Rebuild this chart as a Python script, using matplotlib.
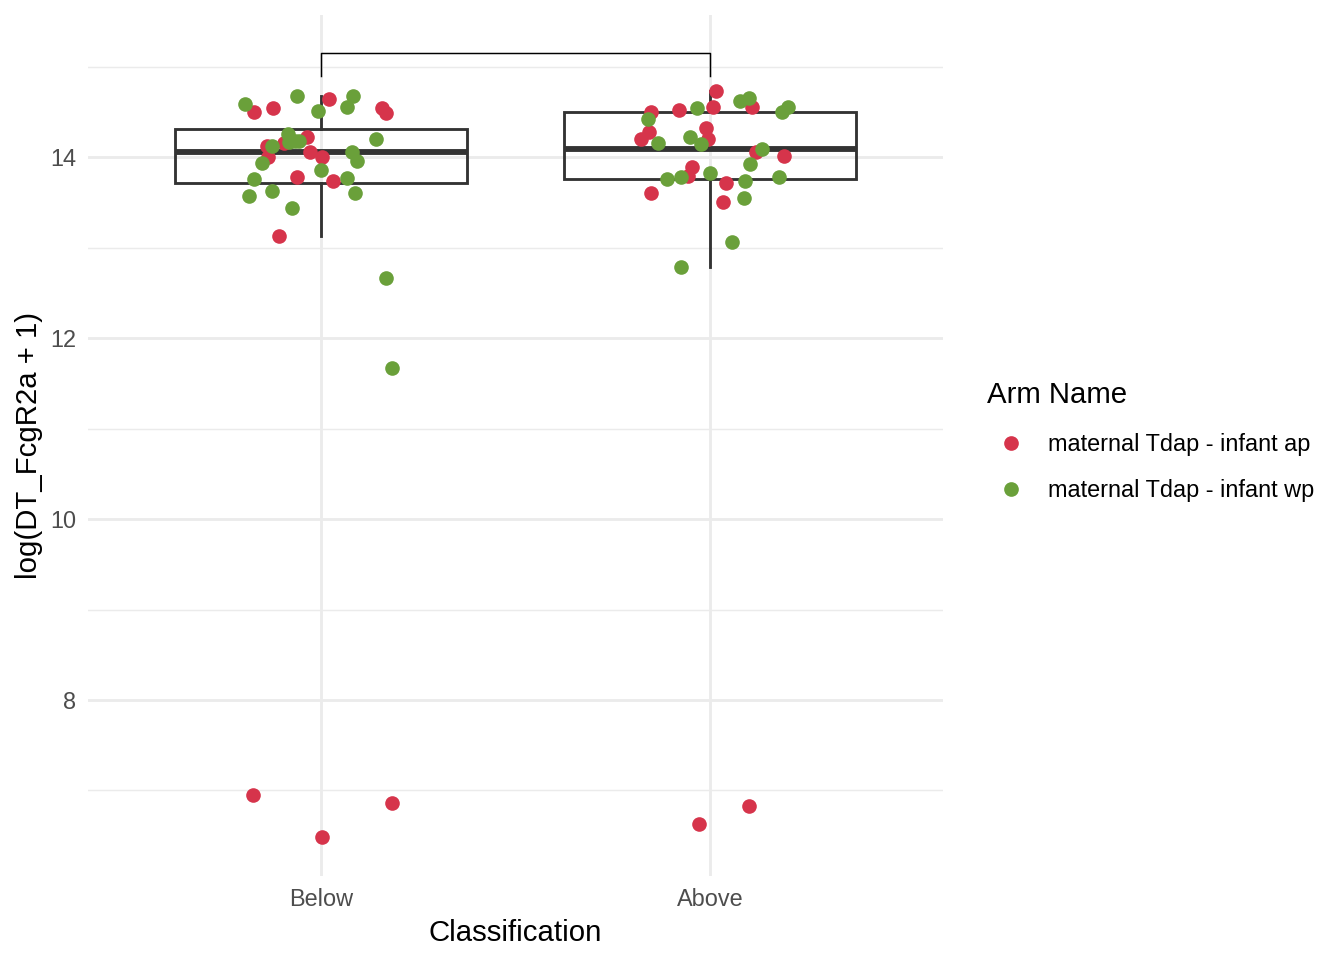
import numpy as np
import matplotlib
matplotlib.use("Agg")
import matplotlib.pyplot as plt
from matplotlib.lines import Line2D

plt.rcParams['font.family'] = ['Liberation Sans', 'DejaVu Sans']

categories = ["Below", "Above"]
arm_names = ["maternal Tdap - infant ap", "maternal Tdap - infant wp"]
colors = ["#D6344B", "#6AA03A"]

# Below group
below_ap = [14.50, 14.54, 14.64, 14.54, 14.49, 14.22, 14.16, 14.12, 14.00, 14.06,
            14.00, 13.78, 13.74, 13.13, 6.95, 6.49, 6.86]
below_ap_jit = [-0.172, -0.123, 0.021, 0.157, 0.167, -0.036, -0.095, -0.139, -0.136, -0.028,
                0.003, -0.062, 0.031, -0.108, -0.175, 0.003, 0.183]
below_wp = [14.59, 14.67, 14.67, 14.55, 14.51, 14.25, 14.17, 14.18, 14.18, 14.12, 14.20,
            14.06, 13.96, 13.93, 13.86, 13.76, 13.77, 13.57, 13.62, 13.60, 13.44,
            12.66, 11.67]
below_wp_jit = [-0.195, -0.062, 0.082, 0.067, -0.008, -0.085, -0.082, -0.057, -0.068, -0.126, 0.141,
                0.080, 0.093, -0.152, 0.000, -0.172, 0.067, -0.185, -0.126, 0.087, -0.075,
                0.167, 0.183]

# Above group
above_ap = [14.73, 14.50, 14.52, 14.55, 14.55, 14.32, 14.28, 14.20, 14.20, 14.06,
            14.01, 13.89, 13.79, 13.71, 13.60, 13.50, 6.63, 6.83]
above_ap_jit = [0.015, -0.152, -0.080, 0.008, 0.108, -0.010, -0.157, -0.177, -0.005, 0.118,
                0.190, -0.046, -0.057, 0.041, -0.152, 0.033, -0.028, 0.100]
above_wp = [14.62, 14.65, 14.54, 14.55, 14.50, 14.42, 14.22, 14.14, 14.16, 14.09,
            13.92, 13.82, 13.78, 13.76, 13.74, 13.78, 13.55, 13.06, 12.79]
above_wp_jit = [0.077, 0.100, -0.033, 0.201, 0.185, -0.159, -0.051, -0.023, -0.134, 0.134,
                0.103, 0.000, -0.075, -0.111, 0.090, 0.177, 0.087, 0.057, -0.075]

bracket_y = 15.15
bracket_tip = 14.895

fig = plt.figure(figsize=(7, 5), dpi=192)
ax = fig.add_axes([88/1344, 1-876/960, (943-88)/1344, (876-15)/960])

ax.set_xlim(0.4, 2.6)
ax.set_ylim(6.055, 15.57)

# grid
for y in [8, 10, 12, 14]:
    ax.axhline(y, color="#EBEBEB", lw=1.07, zorder=0)
for y in [7, 9, 11, 13, 15]:
    ax.axhline(y, color="#EBEBEB", lw=0.53, zorder=0)
for x in [1, 2]:
    ax.axvline(x, color="#EBEBEB", lw=1.07, zorder=0)

groups = [below_ap + below_wp, above_ap + above_wp]
ax.boxplot(groups, positions=[1, 2], widths=0.75, whis=1.5, showfliers=False,
           showcaps=False, patch_artist=True,
           boxprops=dict(facecolor="none", edgecolor="#333333", linewidth=1.07),
           whiskerprops=dict(color="#333333", linewidth=1.07),
           medianprops=dict(color="#333333", linewidth=2.2, solid_capstyle="butt"),
           zorder=2)

pts = [
    (1, below_ap, below_ap_jit, 0), (1, below_wp, below_wp_jit, 1),
    (2, above_ap, above_ap_jit, 0), (2, above_wp, above_wp_jit, 1),
]
for pos, vals, jit, ci in pts:
    ax.scatter(pos + np.array(jit), vals, s=30, color=colors[ci], linewidths=0, zorder=3)

# significance bracket
ax.plot([1, 1, 2, 2], [bracket_tip, bracket_y, bracket_y, bracket_tip],
        color="black", lw=0.55, zorder=4)

ax.set_xticks([1, 2])
ax.set_xticklabels(categories)
ax.set_yticks([8, 10, 12, 14])
ax.tick_params(axis="both", length=0, labelsize=8.8, labelcolor="#4D4D4D")
ax.tick_params(axis="y", pad=4.5)
ax.tick_params(axis="x", pad=4.5)
for s in ax.spines.values():
    s.set_visible(False)

ax.set_xlabel("Classification", fontsize=11, labelpad=3)
ax.set_ylabel("log(DT_FcgR2a + 1)", fontsize=11, labelpad=2.5)

handles = [Line2D([], [], marker="o", linestyle="none", markersize=5.5,
                  markerfacecolor=c, markeredgewidth=0) for c in colors]
leg = fig.legend(handles, arm_names, title="Arm Name", loc="upper left",
                 bbox_to_anchor=(978/1344, 1-372/960), frameon=False,
                 fontsize=8.8, title_fontsize=11, alignment="left",
                 handletextpad=0.6, labelspacing=1.0, borderaxespad=0)

fig.savefig("out.png", dpi=192)
